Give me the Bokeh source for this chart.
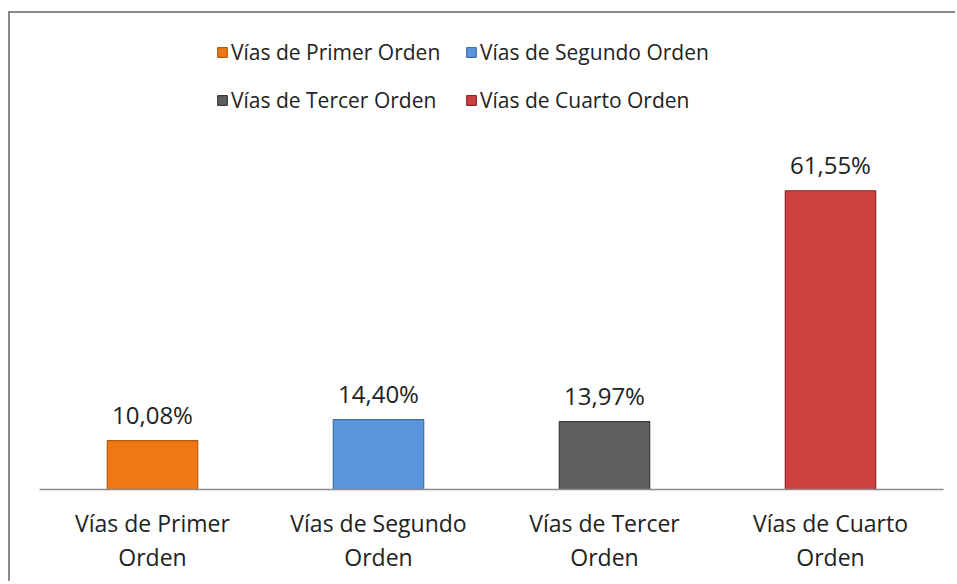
from bokeh.plotting import figure
from bokeh.models import ColumnDataSource, Range1d, Legend, LegendItem, LabelSet, FactorRange
from bokeh.embed import file_html
from bokeh.resources import INLINE
from bokeh.core.properties import value

categories = ["Vías de Primer Orden", "Vías de Segundo Orden", "Vías de Tercer Orden", "Vías de Cuarto Orden"]
axis_labels = ["Vías de Primer\nOrden", "Vías de Segundo\nOrden", "Vías de Tercer\nOrden", "Vías de Cuarto\nOrden"]
values = [10.08, 14.40, 13.97, 61.55]
value_labels = ["10,08%", "14,40%", "13,97%", "61,55%"]
colors = ["#EF7715", "#5A96DC", "#5E5E5E", "#CE3F3F"]
edge_colors = ["#B35A0E", "#3F6FA8", "#3A3A3A", "#8A2525"]

FONT = "Open Sans"
TEXT_COLOR = "#222222"

src = ColumnDataSource(dict(cat=axis_labels, val=values, lab=value_labels,
                            color=colors, edge=edge_colors))

p = figure(x_range=FactorRange(factors=axis_labels), y_range=Range1d(0, 96),
           width=947, height=570, output_backend="svg", toolbar_location=None,
           min_border_left=29, min_border_right=14, min_border_top=10, min_border_bottom=94)
p.styles = {"border-left": "2px solid #8a8a8a", "border-top": "2px solid #8a8a8a",
            "margin-top": "11px", "margin-left": "8px"}
p.outline_line_color = None
p.xgrid.grid_line_color = None
p.ygrid.grid_line_color = None
p.yaxis.visible = False
p.background_fill_color = "white"
p.border_fill_color = "white"

r = p.vbar(x="cat", top="val", width=0.4, source=src, fill_color="color",
           line_color="edge", line_width=1.2)

labels = LabelSet(x="cat", y="val", text="lab", source=src, text_align="center",
                  text_baseline="alphabetic", y_offset=17,
                  text_font=value(FONT), text_font_size="24px", text_color=TEXT_COLOR)
p.add_layout(labels)

ax = p.xaxis[0]
ax.axis_line_color = "#8c8c8c"
ax.axis_line_width = 1.5
ax.major_tick_line_color = None
ax.minor_tick_line_color = None
ax.major_label_text_font = FONT
ax.major_label_text_font_size = "23px"
ax.major_label_text_color = TEXT_COLOR
ax.major_label_text_line_height = 1.085
ax.major_label_standoff = 11
ax.major_label_orientation = "horizontal"

items = [LegendItem(label=c, renderers=[r], index=i) for i, c in enumerate(categories)]
legend = Legend(items=items, location=(177, 375), orientation="horizontal", ncols=2,
                border_line_color=None, background_fill_alpha=0,
                label_text_font=FONT, label_text_font_size="21px", label_text_color=TEXT_COLOR,
                glyph_width=12, glyph_height=12, label_standoff=3, spacing=20,
                label_width=214, padding=0, margin=0, label_height=24)
p.add_layout(legend, "center")

open("out.html", "w").write(file_html(p, INLINE))
